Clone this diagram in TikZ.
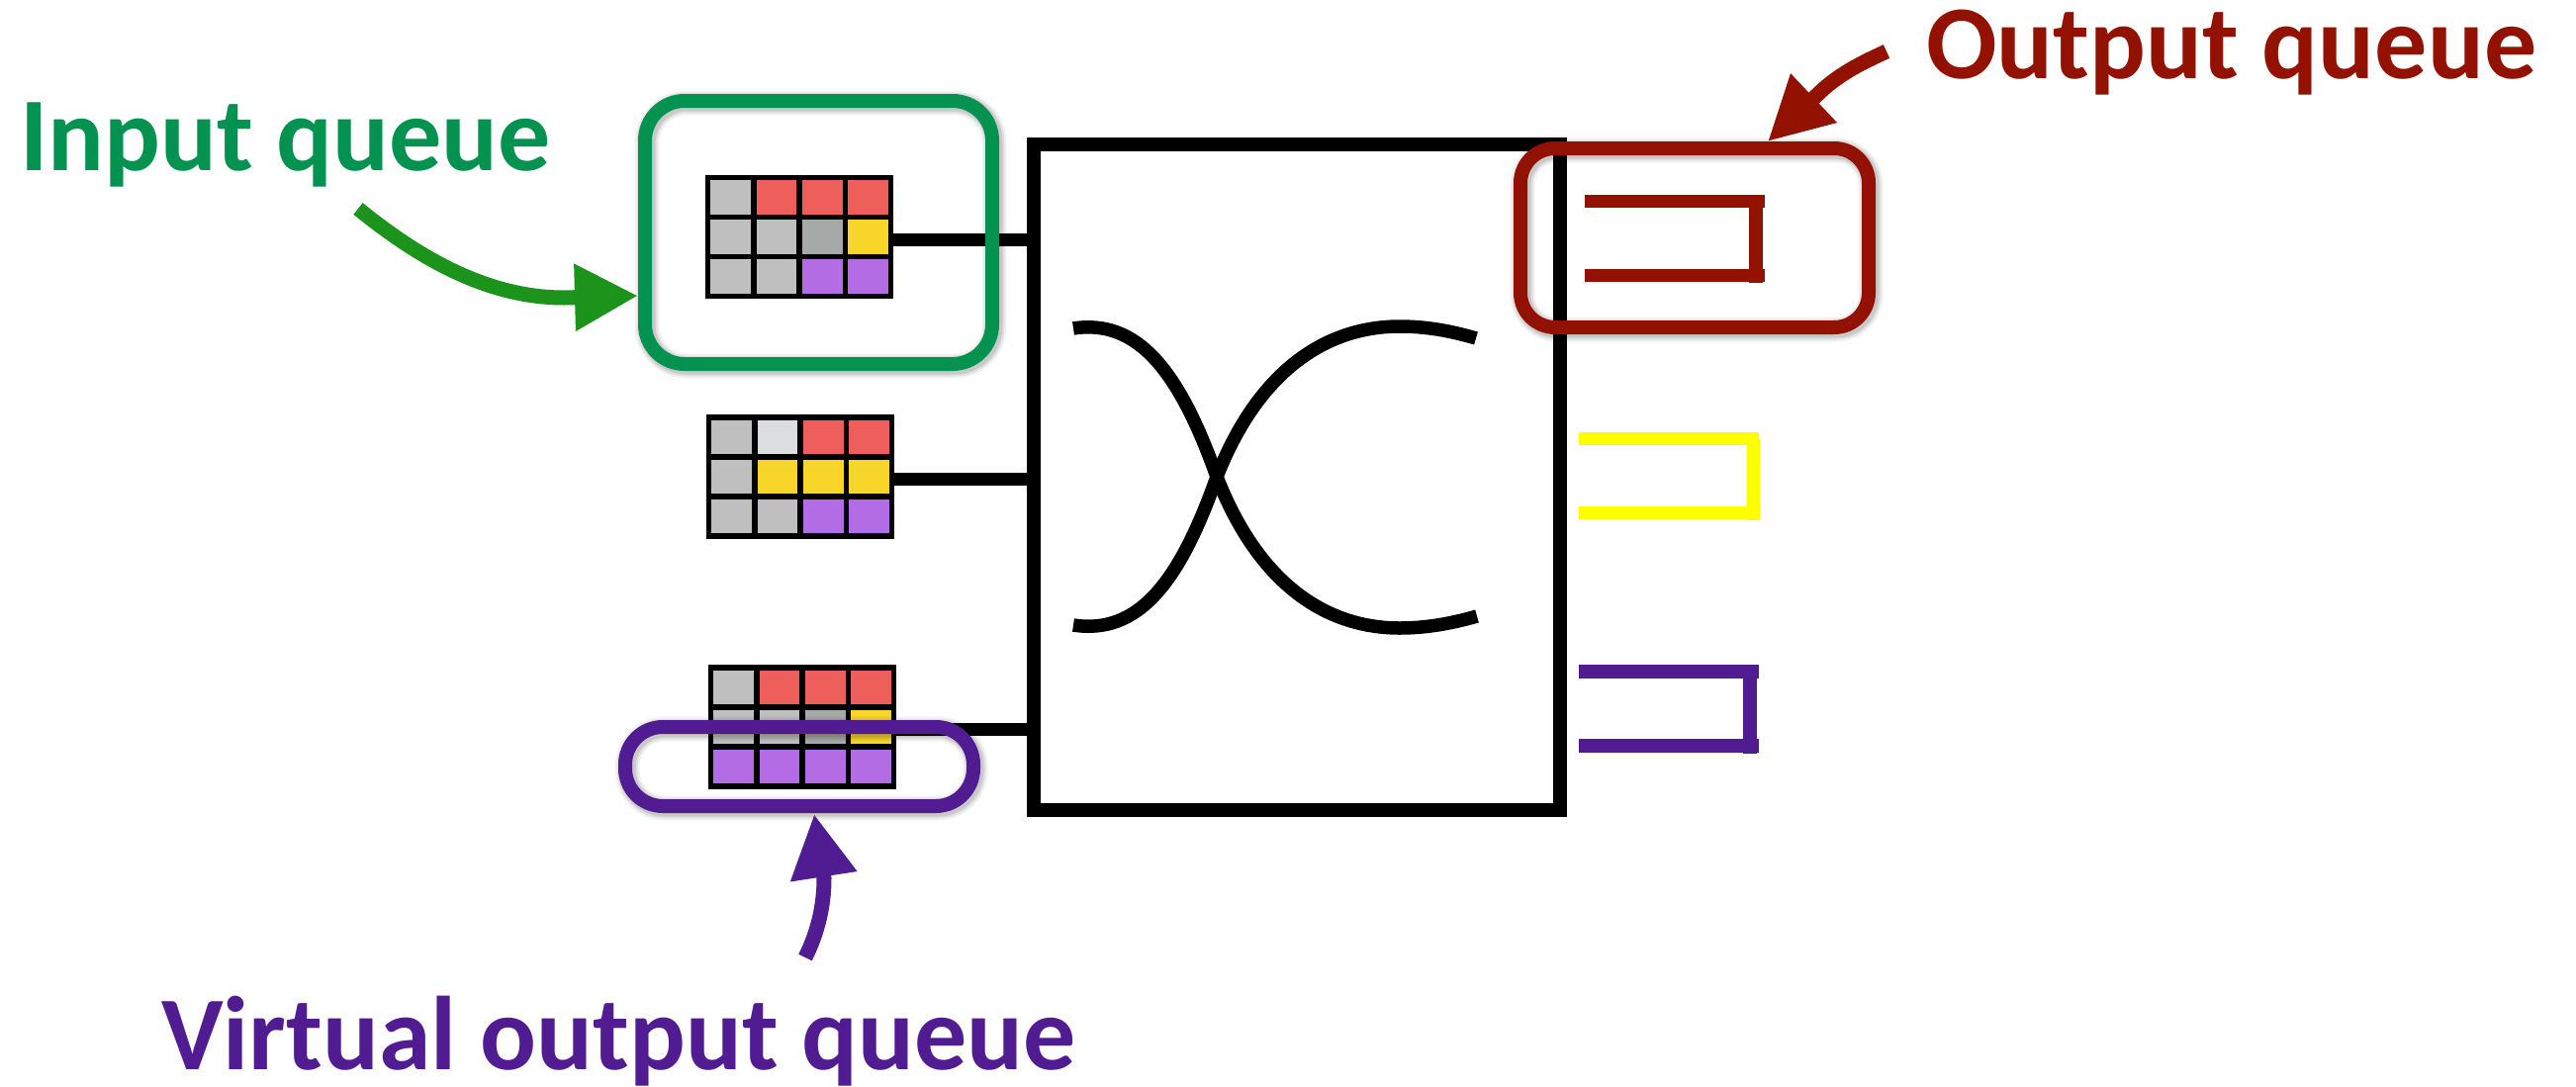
\documentclass[tikz,border=0pt]{standalone}
\usepackage{fontspec}
\setmainfont{Carlito}
\usetikzlibrary{arrows.meta}
\definecolor{qgreen}{HTML}{039250}
\definecolor{agreen}{HTML}{1C941C}
\definecolor{qred}{HTML}{931100}
\definecolor{qpurple}{HTML}{511C91}
\definecolor{qyellow}{HTML}{FFFF00}
\definecolor{cg}{HTML}{BFBFBF}
\definecolor{cl}{HTML}{DCDDDF}
\definecolor{cd}{HTML}{A5A9A7}
\definecolor{cr}{HTML}{EE5F5B}
\definecolor{cy}{HTML}{F7D529}
\definecolor{cp}{HTML}{B36CE3}
\tikzset{
  cellbox/.style={draw=black,line width=5.5pt,minimum width=46.25pt,minimum height=40pt,inner sep=0pt,outer sep=0pt},
  gridframe/.style={minimum width=190pt,minimum height=125pt,inner sep=0pt,outer sep=0pt},
  switchbox/.style={draw=black,line width=13.5pt,minimum width=532pt,minimum height=673pt,inner sep=0pt,outer sep=0pt},
  link/.style={draw=black,line width=13pt},
  crossing/.style={draw=black,line width=13.5pt},
  barline/.style={line width=13.5pt},
  callout/.style={line width=15pt,-{Triangle[length=64pt,width=64pt]}},
  label/.style={anchor=base west,inner sep=0pt,outer sep=0pt,font=\fontsize{106}{120}\selectfont\bfseries}
}
% name, centre x, centre y, cell colours
\newcommand\qgrid[4]{%
  \foreach \c [count=\i from 0] in {#4} {
    \pgfmathsetmacro\cxx{#2+(mod(\i,4)-1.5)*46.25}
    \pgfmathsetmacro\cyy{#3+(int(\i/4)-1)*40}
    \node[cellbox,fill=\c] (#1-\i) at (\cxx,\cyy) {};
  }
  \node[gridframe] (#1) at (#2,#3) {};
}
% name, centre x, centre y, width, height, radius, colour
\newcommand\halo[7]{%
  \node[draw=black,draw opacity=.05,line width=25pt,rounded corners=#6pt,minimum width=#4pt,minimum height=#5pt,inner sep=0pt,outer sep=0pt] (#1-a) at (#2+2,#3+2) {};
  \node[draw=black,draw opacity=.07,line width=21pt,rounded corners=#6pt,minimum width=#4pt,minimum height=#5pt,inner sep=0pt,outer sep=0pt] (#1-b) at (#2+2,#3+2) {};
  \node[draw=black,draw opacity=.10,line width=17pt,rounded corners=#6pt,minimum width=#4pt,minimum height=#5pt,inner sep=0pt,outer sep=0pt] (#1-c) at (#2+2,#3+2) {};
  \node[draw=#7,line width=14pt,rounded corners=#6pt,minimum width=#4pt,minimum height=#5pt,inner sep=0pt,outer sep=0pt] (#1) at (#2,#3) {};
}
\begin{document}
\begin{tikzpicture}[x=1pt,y=-1pt]
\useasboundingbox (0,0) rectangle (2604,1098);
\fill[white] (0,0) rectangle (2604,1098);

% switch
\node[switchbox] (sw) at (1311,482.5) {};

% queues at the inputs
\qgrid{ga}{808}{239.5}{cg,cr,cr,cr,cg,cg,cd,cy,cg,cg,cp,cp}
\qgrid{gb}{809}{482}{cg,cl,cr,cr,cg,cy,cy,cy,cg,cg,cp,cp}
\qgrid{gc}{811}{735}{cg,cr,cr,cr,cg,cg,cd,cy,cp,cp,cp,cp}

% links into the switch
\draw[link] ([yshift=-2.5pt]ga.east) -- ([yshift=-2.5pt]ga.east -| sw.west);
\draw[link] ([yshift=-2pt]gb.east) -- ([yshift=-2pt]gb.east -| sw.west);
\draw[link] ([yshift=-2pt]gc.east) -- ([yshift=-2pt]gc.east -| sw.west);

% crossing
\draw[crossing] (1085,332) .. controls (1150,322) and (1192,375) .. (1230,482)
  .. controls (1272,590) and (1340,635) .. (1415,635)
  .. controls (1440,635) and (1465,631) .. (1493,623);
\draw[crossing] (1085,632) .. controls (1150,642) and (1192,590) .. (1230,482)
  .. controls (1272,375) and (1340,330) .. (1415,330)
  .. controls (1440,330) and (1465,334) .. (1492,342);

% queues at the outputs
\draw[qred,barline] (1602,203.5) -- (1784,203.5);
\draw[qred,barline] (1602,278.5) -- (1784,278.5);
\draw[qred,barline] (1775,203.5) -- (1775,286);
\draw[qyellow,barline] (1596,443.5) -- (1778,443.5);
\draw[qyellow,barline] (1596,518.5) -- (1778,518.5);
\draw[qyellow,barline] (1772.5,443.5) -- (1772.5,525.5);
\draw[qpurple,barline] (1596,679) -- (1778,679);
\draw[qpurple,barline] (1596,754) -- (1778,754);
\draw[qpurple,barline] (1769,679) -- (1769,761.5);

% highlight outlines
\halo{hin}{827.5}{235}{351}{266}{40}{qgreen}
\halo{hvoq}{808}{775}{352}{80}{38}{qpurple}
\halo{hout}{1713}{240.5}{352}{181}{35}{qred}

% labels
\node[label,text=qgreen] (tin) at (20,172) {Input queue};
\node[label,text=qred] (tout) at (1947,79) {Output queue};
\node[label,text=qpurple] (tvoq) at (163,1081) {Virtual output queue};

% callout arrows
\coordinate (ain) at (362,211);
\coordinate (aintip) at (645,299);
\coordinate (aout) at (1907,52);
\coordinate (aouttip) at (1787,143);
\coordinate (avoq) at (814,968);
\coordinate (avoqtip) at (823,823);
\draw[agreen,callout] (ain) .. controls (420,258) and (490,301) .. (570,301) -- (aintip);
\draw[qred,callout] (aout) .. controls (1885,62) and (1860,74) .. (1840,93) -- (aouttip);
\draw[qpurple,callout] (avoq) .. controls (827,942) and (833,915) .. (833,888) -- (avoqtip);
\end{tikzpicture}
\end{document}
